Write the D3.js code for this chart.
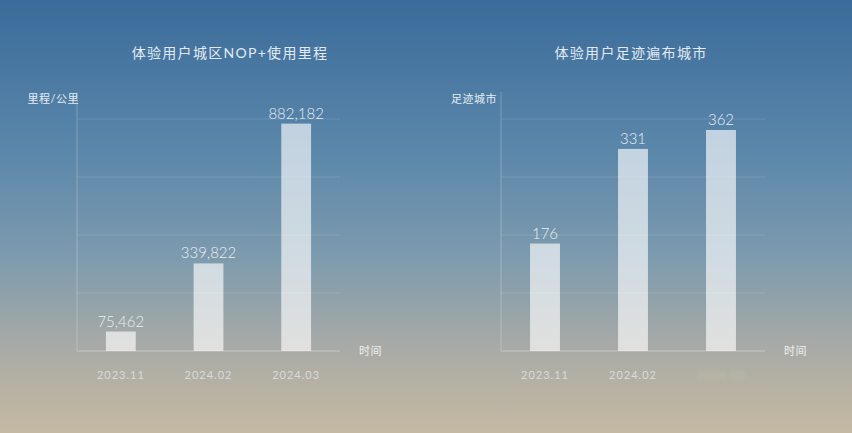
<!DOCTYPE html>
<html>
<head>
<meta charset="utf-8">
<script src="https://cdn.jsdelivr.net/npm/d3@7"></script>
<style>
  html, body { margin: 0; padding: 0; }
  body { width: 852px; height: 433px; overflow: hidden; }
  svg text { font-family: "Lato", "Noto Sans CJK SC", sans-serif; }
</style>
</head>
<body>
<div id="chart"></div>
<script>
const months = ["2023.11", "2024.02", "2024.03"];
const mileage = [75462, 339822, 882182];
const cities = [176, 331, 362];

const mileageTitle = "体验用户城区NOP+使用里程";
const citiesTitle = "体验用户足迹遍布城市";
const mileageYLabel = "里程/公里";
const citiesYLabel = "足迹城市";
const xLabel = "时间";

const width = 852, height = 433;

const svg = d3.select("#chart").append("svg")
    .attr("width", width)
    .attr("height", height);

const defs = svg.append("defs");

const bg = defs.append("linearGradient")
    .attr("id", "bg").attr("x1", 0).attr("y1", 0).attr("x2", 0).attr("y2", 1);
bg.append("stop").attr("offset", "0%").attr("stop-color", "#3a6b9a");
bg.append("stop").attr("offset", "35%").attr("stop-color", "#5b87aa");
bg.append("stop").attr("offset", "60%").attr("stop-color", "#7e9bae");
bg.append("stop").attr("offset", "80%").attr("stop-color", "#a8aaa6");
bg.append("stop").attr("offset", "100%").attr("stop-color", "#c5b9a2");

defs.append("filter").attr("id", "blur")
    .append("feGaussianBlur").attr("stdDeviation", 2.2);

svg.append("rect")
    .attr("width", width).attr("height", height)
    .attr("fill", "url(#bg)");

function drawPanel(opts) {
    const { left, right, top, bottom, values, max, title, titleX, yLabel, yLabelX, fmt, hideLast } = opts;

    const g = svg.append("g");

    const x = d3.scaleBand()
        .domain(months)
        .range([left, right])
        .paddingInner(0.66)
        .paddingOuter(0.33);

    const y = d3.scaleLinear()
        .domain([0, max])
        .range([bottom, top]);

    // gridlines
    const gridValues = d3.range(1, 5).map(i => max * i / 4);
    g.selectAll(".grid")
        .data(gridValues)
        .enter().append("line")
        .attr("x1", left).attr("x2", right)
        .attr("y1", d => y(d)).attr("y2", d => y(d))
        .style("stroke", "rgba(255,255,255,0.13)")
        .style("stroke-width", 1);

    // y axis line
    g.append("line")
        .attr("x1", left).attr("x2", left)
        .attr("y1", top - 27).attr("y2", bottom)
        .style("stroke", "rgba(255,255,255,0.25)")
        .style("stroke-width", 1);

    // baseline
    g.append("line")
        .attr("x1", left).attr("x2", right)
        .attr("y1", bottom).attr("y2", bottom)
        .style("stroke", "rgba(255,255,255,0.35)")
        .style("stroke-width", 1);

    g.selectAll(".bar")
        .data(values)
        .enter().append("rect")
        .attr("class", "bar")
        .attr("x", (d, i) => x(months[i]))
        .attr("width", x.bandwidth())
        .attr("y", d => y(d))
        .attr("height", d => bottom - y(d))
        .style("fill", "#ffffff")
        .style("fill-opacity", 0.64);

    g.selectAll(".val")
        .data(values)
        .enter().append("text")
        .attr("x", (d, i) => x(months[i]) + x.bandwidth() / 2)
        .attr("y", d => y(d) - 5)
        .attr("text-anchor", "middle")
        .style("font-size", "15px")
        .style("font-weight", 300)
        .style("fill", "#e9eef2")
        .text(d => fmt(d));

    // x tick labels
    const axis = g.append("g")
        .attr("transform", `translate(0,${bottom + 20})`)
        .call(d3.axisBottom(x).tickSize(0).tickPadding(0));
    axis.select(".domain").remove();
    axis.selectAll("text")
        .style("font-family", "Lato, sans-serif")
        .style("font-size", "11px")
        .style("letter-spacing", "1px")
        .style("fill", "#e4e6e6")
        .style("fill-opacity", 0.8);
    if (hideLast) {
        axis.selectAll(".tick").filter((d, i) => i === months.length - 1).select("text")
            .attr("filter", "url(#blur)")
            .style("fill", "#efe6b8")
            .style("fill-opacity", 0.3);
    }

    g.append("text")
        .attr("x", titleX)
        .attr("y", 58)
        .attr("text-anchor", "middle")
        .style("font-size", "14px")
        .style("letter-spacing", "1.3px")
        .style("fill", "#e3ebf2")
        .text(title);

    g.append("text")
        .attr("x", yLabelX)
        .attr("y", top - 16)
        .attr("text-anchor", "end")
        .style("font-size", "11px")
        .style("letter-spacing", "0.5px")
        .style("fill", "#e6edf3")
        .text(yLabel);

    g.append("text")
        .attr("x", right + 19)
        .attr("y", bottom + 4)
        .style("font-size", "11px")
        .style("letter-spacing", "0.5px")
        .style("fill", "#eef0f0")
        .text(xLabel);
}

drawPanel({
    left: 77, right: 340, top: 119, bottom: 351,
    values: mileage, max: 900000,
    title: mileageTitle, titleX: 230,
    yLabel: mileageYLabel, yLabelX: 79,
    fmt: d3.format(","), hideLast: false
});

drawPanel({
    left: 501, right: 765, top: 119, bottom: 351,
    values: cities, max: 380,
    title: citiesTitle, titleX: 631,
    yLabel: citiesYLabel, yLabelX: 497,
    fmt: d3.format("d"), hideLast: true
});
</script>
</body>
</html>
